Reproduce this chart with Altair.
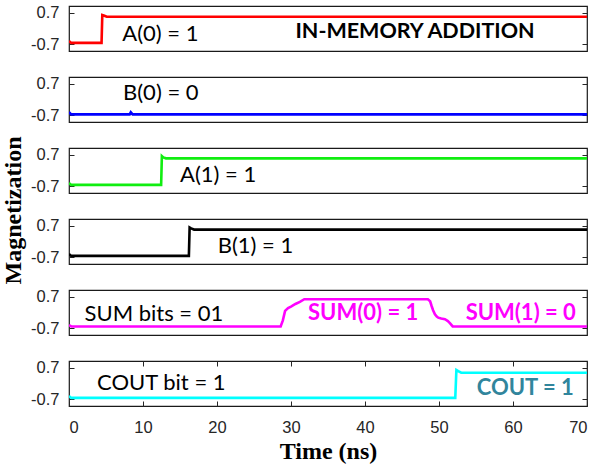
import altair as alt
import pandas as pd

# ---- signal traces (time in ns, magnetization) ----
T_A0 = [0, 0.3, 4.4, 4.5, 4.7, 5.1, 70]
V_A0 = [-0.56, -0.64, -0.64, 0.60, 0.58, 0.52, 0.52]

T_B0 = [0, 0.3, 8.2, 8.35, 8.6, 70]
V_B0 = [-0.56, -0.66, -0.66, -0.57, -0.66, -0.66]

T_A1 = [0, 0.3, 12.45, 12.55, 12.75, 13.1, 70]
V_A1 = [-0.56, -0.64, -0.64, 0.64, 0.58, 0.54, 0.54]

T_B1 = [0, 0.3, 16.2, 16.3, 16.5, 16.9, 70]
V_B1 = [-0.56, -0.64, -0.64, 0.62, 0.58, 0.53, 0.53]

T_SUM = [0, 0.3, 28.6, 28.9, 29.2, 29.6, 30.0, 30.6, 31.2, 31.8, 48.5, 48.8,
         49.0, 49.2, 49.45, 49.7, 49.9, 50.3, 50.8, 51.2, 51.5, 51.85, 70]
V_SUM = [-0.56, -0.62, -0.62, -0.35, 0.07, 0.2, 0.26, 0.38, 0.47, 0.59, 0.59, 0.5,
         0.29, 0.1, -0.08, -0.18, -0.23, -0.27, -0.3, -0.38, -0.48, -0.62, -0.62]

T_COUT = [0, 0.3, 52.2, 52.35, 52.6, 53.0, 70]
V_COUT = [-0.56, -0.64, -0.64, 0.6, 0.55, 0.48, 0.48]

TRACES = [T_A0, T_B0, T_A1, T_B1, T_SUM, T_COUT]
VALUES = [V_A0, V_B0, V_A1, V_B1, V_SUM, V_COUT]
COLORS = ["#FF0000", "#0000FF", "#11EE11", "#000000", "#FF00FF", "#00FFFF"]

# ---- annotations ----
ANN_TEXT = ["A(0) = 1", "IN-MEMORY ADDITION", "B(0) = 0", "A(1) = 1", "B(1) = 1",
            "SUM bits = 01", "SUM(0) = 1", "SUM(1) = 0", "COUT bit = 1", "COUT = 1"]
ANN_PANEL = [0, 0, 1, 2, 3, 4, 4, 4, 5, 5]
ANN_X = [7.2, 30.6, 7.3, 15.0, 20.1, 2.1, 32.3, 53.6, 3.8, 55.1]
ANN_Y = [-0.24, -0.15, 0.30, -0.22, -0.2, -0.07, -0.04, -0.04, 0.04, -0.22]
ANN_STYLE = ["n", "t", "n", "n", "n", "n", "h", "h", "n", "h"]
ANN_COLOR = ["#000000", "#000000", "#000000", "#000000", "#000000", "#000000",
             "#FF00FF", "#FF00FF", "#000000", "#31859C"]

X_TICKS = [0, 10, 20, 30, 40, 50, 60, 70]
Y_TICKS = [-0.7, 0.7]

STYLES = {
    "n": dict(fontSize=22, fontWeight="normal"),
    "t": dict(fontSize=21.5, fontWeight="bold"),
    "h": dict(fontSize=22, fontWeight="bold"),
}

W, H = 518, 45
AX = "#262626"
LABEL_EXPR = "(datum.value < 0 ? '-' : '') + format(abs(datum.value), '.1f')"

xs = alt.Scale(domain=[0, 70], nice=False, zero=False)
ys = alt.Scale(domain=[-1, 1], nice=False, zero=False)


def y_left(title=None):
    kw = dict(values=Y_TICKS, labelExpr=LABEL_EXPR, tickSize=5, offset=-5, domain=False,
              grid=False, labelPadding=10, labelFont="Liberation Sans", labelFontSize=16.5,
              labelColor=AX, tickColor=AX, tickWidth=1)
    if title:
        kw.update(title=title, titleFont="Liberation Serif", titleFontWeight="bold",
                  titleFontSize=24, titleColor="#000000", titleY=62, titlePadding=5)
    else:
        kw.update(title=None)
    return alt.Axis(**kw)


y_right = alt.Axis(orient="right", values=Y_TICKS, labels=False, tickSize=5, offset=-5,
                   domain=False, grid=False, tickColor=AX, tickWidth=1, title=None)

x_bottom = alt.Axis(values=X_TICKS, tickSize=5, offset=-5, domain=False, grid=False,
                    labelPadding=13, labelFont="Liberation Sans", labelFontSize=16.5,
                    labelColor=AX, tickColor=AX, tickWidth=1, title="Time (ns)",
                    titleFont="Liberation Serif", titleFontWeight="bold", titleFontSize=24,
                    titleColor="#000000", titlePadding=4)
x_top = alt.Axis(orient="top", values=X_TICKS, labels=False, tickSize=5, offset=-5,
                 domain=False, grid=False, tickColor=AX, tickWidth=1, title=None)

ann_df = pd.DataFrame({"panel": ANN_PANEL, "text": ANN_TEXT, "x": ANN_X, "y": ANN_Y,
                       "style": ANN_STYLE, "color": ANN_COLOR})

panels = []
for i, (t, v, c) in enumerate(zip(TRACES, VALUES, COLORS)):
    df = pd.DataFrame({"t": t, "v": v})
    last = i == len(TRACES) - 1
    line = alt.Chart(df).mark_line(color=c, strokeWidth=2.6, clip=True).encode(
        x=alt.X("t:Q", scale=xs, axis=x_bottom if last else None),
        y=alt.Y("v:Q", scale=ys, axis=y_left("Magnetization" if i == 2 else None)),
    )
    mirror = alt.Chart(df).mark_line(opacity=0).encode(
        x=alt.X("t:Q", scale=xs, axis=x_top if last else None),
        y=alt.Y("v:Q", scale=ys, axis=y_right),
    )
    layers = [line, mirror]
    sub = ann_df[ann_df.panel == i]
    for _, r in sub.iterrows():
        st = STYLES[r["style"]]
        d = pd.DataFrame([{"x": r["x"], "y": r["y"], "text": r["text"]}])
        layers.append(
            alt.Chart(d).mark_text(align="left", baseline="middle", font="Lato",
                                   color=r["color"], **st).encode(
                x=alt.X("x:Q", scale=xs, axis=None),
                y=alt.Y("y:Q", scale=ys, axis=None),
                text="text:N",
            )
        )
    p = alt.layer(*layers).resolve_axis(x="independent", y="independent").properties(
        width=W, height=H)
    panels.append(p)

chart = alt.vconcat(*panels, spacing=26, bounds="flush").properties(
    padding={"left": 0, "top": 4, "right": 12, "bottom": 5},
    background="white",
).configure_view(stroke="#1a1a1a", strokeWidth=1.2)

chart.save("out.html", embed_options={"renderer": "svg", "actions": False})
